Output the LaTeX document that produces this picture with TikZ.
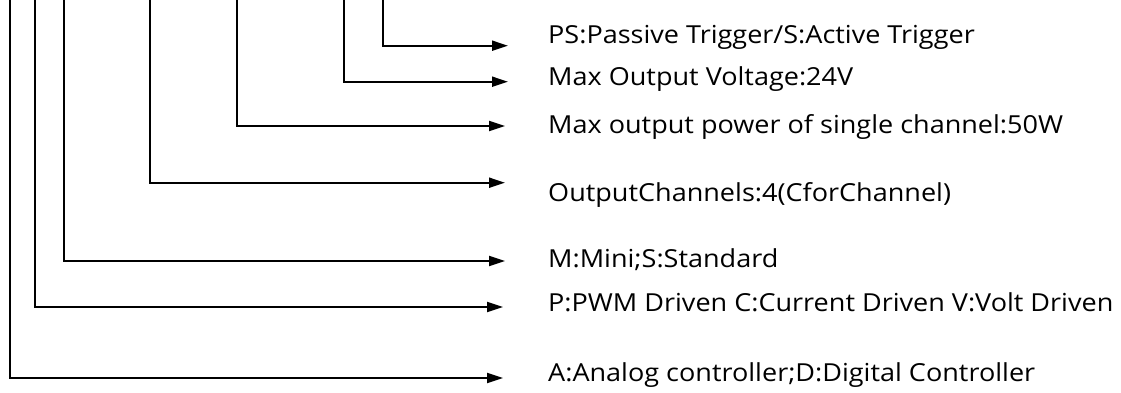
\documentclass[tikz,border=0pt]{standalone}
\usepackage{fontspec}
\setmainfont{Open Sans}[FakeStretch=1.09]
\usetikzlibrary{arrows.meta}

\begin{document}
\begin{tikzpicture}[x=1pt,y=-1pt,
    lbl/.style={anchor=base west,inner sep=0pt,font=\fontsize{24.8}{24.8}\selectfont},
    lead/.style={draw=black,line width=2pt,-{Triangle[length=16pt,width=10pt]}}]
    \useasboundingbox (0,0) rectangle (1121,392);
    % code letters, right to left
    \node[lbl] (trig) at (548,43) {PS:Passive Trigger/S:Active Trigger};
    \node[lbl] (volt) at (548,85) {Max Output Voltage:24V};
    \node[lbl] (power) at (548,133) {Max output power of single channel:50W};
    \node[lbl] (chan) at (548,201) {OutputChannels:4(CforChannel)};
    \node[lbl] (size) at (548,267) {M:Mini;S:Standard};
    \node[lbl] (drive) at (548,311) {P:PWM Driven C:Current Driven V:Volt Driven};
    \node[lbl] (ctrl) at (548,381) {A:Analog controller;D:Digital Controller};
    \coordinate (trig top) at (383,0);   \coordinate (trig tip) at (508,45.7);
    \coordinate (volt top) at (344,0);   \coordinate (volt tip) at (508,81.7);
    \coordinate (power top) at (237,0);  \coordinate (power tip) at (505,126);
    \coordinate (chan top) at (150,0);   \coordinate (chan tip) at (505,182.7);
    \coordinate (size top) at (63.5,0);  \coordinate (size tip) at (505,261);
    \coordinate (drive top) at (35,0);   \coordinate (drive tip) at (503,307);
    \coordinate (ctrl top) at (10,0);    \coordinate (ctrl tip) at (503,378);
    \draw[lead] (trig top) |- (trig tip);
    \draw[lead] (volt top) |- (volt tip);
    \draw[lead] (power top) |- (power tip);
    \draw[lead] (chan top) |- (chan tip);
    \draw[lead] (size top) |- (size tip);
    \draw[lead] (drive top) |- (drive tip);
    \draw[lead] (ctrl top) |- (ctrl tip);
\end{tikzpicture}
\end{document}
